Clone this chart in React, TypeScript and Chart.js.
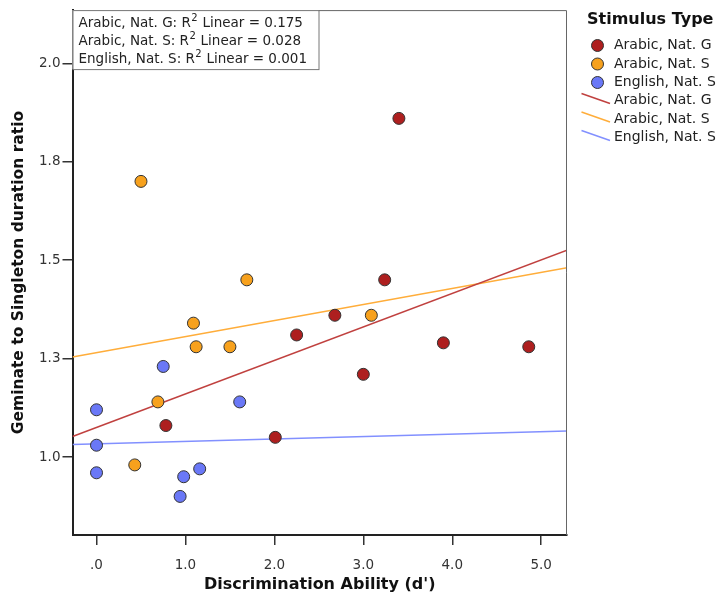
import React, { useEffect, useRef } from "react";
import { Chart, registerables } from "chart.js";
Chart.register(...registerables);

const seriesLabels = ["Arabic, Nat. G", "Arabic, Nat. S", "English, Nat. S"];
const legendTitle = "Stimulus Type";
const arabicGX = [0.78, 2.01, 2.25, 2.68, 3.0, 3.24, 3.4, 3.9, 4.86];
const arabicGY = [1.08, 1.05, 1.31, 1.36, 1.21, 1.45, 1.86, 1.29, 1.28];
const arabicSX = [0.43, 0.5, 0.69, 1.09, 1.12, 1.5, 1.69, 3.09];
const arabicSY = [0.98, 1.7, 1.14, 1.34, 1.28, 1.28, 1.45, 1.36];
const englishSX = [0.0, 0.0, 0.0, 0.75, 0.94, 0.98, 1.16, 1.61];
const englishSY = [1.12, 1.03, 0.96, 1.23, 0.9, 0.95, 0.97, 1.14];
const fitX = [-0.27, 5.29];
const arabicGFit = [1.052, 1.525];
const arabicSFit = [1.254, 1.481];
const englishSFit = [1.032, 1.066];
const r2Values = ["0.175", "0.028", "0.001"];
const xTickValues = [0, 1, 2, 3, 4, 5];
const xTickLabels = [".0", "1.0", "2.0", "3.0", "4.0", "5.0"];
const yTickValues = [1.0, 1.25, 1.5, 1.75, 2.0];
const yTickLabels = ["1.0", "1.3", "1.5", "1.8", "2.0"];

const pointColors = ["#AE1F1F", "#F7A11D", "#6A78F7"];
const lineColors = ["#C0413F", "#FFAD3A", "#8290FF"];
const FONT = "'DejaVu Sans', sans-serif";

const zip = (xs: number[], ys: number[]) => xs.map((x, i) => ({ x, y: ys[i] }));

const overlayPlugin = {
  id: "overlay",
  afterDraw(chart: any) {
    const { ctx, chartArea: a } = chart;
    ctx.save();
    // top & right frame
    ctx.strokeStyle = "#666";
    ctx.lineWidth = 1;
    ctx.beginPath();
    ctx.moveTo(a.left, a.top + 0.5);
    ctx.lineTo(a.right - 0.5, a.top + 0.5);
    ctx.lineTo(a.right - 0.5, a.bottom);
    ctx.stroke();

    // R2 annotation box
    const bx = a.left, by = a.top, bw = 246, bh = 59;
    ctx.fillStyle = "#fff";
    ctx.fillRect(bx, by, bw, bh);
    ctx.strokeStyle = "#777";
    ctx.strokeRect(bx + 0.5, by + 0.5, bw, bh);
    ctx.fillStyle = "#222";
    ctx.textBaseline = "middle";
    ctx.textAlign = "left";
    seriesLabels.forEach((lab, i) => {
      const y = by + 13 + i * 18.3;
      let x = bx + 6;
      ctx.font = `13.5px ${FONT}`;
      const t1 = `${lab}: R`;
      ctx.fillText(t1, x, y);
      x += ctx.measureText(t1).width;
      ctx.font = `10px ${FONT}`;
      ctx.fillText("2", x + 0.5, y - 5);
      x += ctx.measureText("2").width + 1;
      ctx.font = `13.5px ${FONT}`;
      ctx.fillText(` Linear = ${r2Values[i]}`, x, y);
    });

    // legend
    const lx = 580;
    ctx.font = `bold 16px ${FONT}`;
    ctx.fillStyle = "#111";
    ctx.fillText(legendTitle, lx + 7, 20);
    ctx.font = `14px ${FONT}`;
    seriesLabels.forEach((lab, i) => {
      const y = 45.5 + i * 18.5;
      ctx.beginPath();
      ctx.arc(lx + 17.5, y, 6, 0, Math.PI * 2);
      ctx.fillStyle = pointColors[i];
      ctx.fill();
      ctx.strokeStyle = "#333";
      ctx.lineWidth = 1;
      ctx.stroke();
      ctx.fillStyle = "#222";
      ctx.fillText(lab, lx + 34, y);
    });
    seriesLabels.forEach((lab, i) => {
      const y = 100.5 + i * 18.5;
      ctx.beginPath();
      ctx.moveTo(lx + 1.5, y - 7);
      ctx.lineTo(lx + 30, y + 3);
      ctx.strokeStyle = lineColors[i];
      ctx.lineWidth = 1.5;
      ctx.stroke();
      ctx.fillStyle = "#222";
      ctx.fillText(lab, lx + 34, y);
    });
    ctx.restore();
  },
};

export default function App() {
  const ref = useRef<HTMLCanvasElement | null>(null);
  useEffect(() => {
    if (!ref.current) return;
    const pointDs = [
      zip(arabicGX, arabicGY),
      zip(arabicSX, arabicSY),
      zip(englishSX, englishSY),
    ].map((data, i) => ({
      label: seriesLabels[i],
      data,
      backgroundColor: pointColors[i],
      borderColor: "#333",
      borderWidth: 1,
      pointRadius: 6,
      showLine: false,
    }));
    const lineDs = [arabicGFit, arabicSFit, englishSFit].map((ys, i) => ({
      label: seriesLabels[i] + " fit",
      data: zip(fitX, ys),
      borderColor: lineColors[i],
      borderWidth: 1.5,
      pointRadius: 0,
      showLine: true,
      fill: false,
    }));
    const chart = new Chart(ref.current, {
      type: "scatter",
      data: { datasets: [...pointDs, ...lineDs] as any },
      plugins: [overlayPlugin],
      options: {
        animation: false,
        responsive: false,
        maintainAspectRatio: false,
        layout: { padding: { top: 7, right: 156, left: 0, bottom: 0 } },
        plugins: { legend: { display: false }, tooltip: { enabled: false } },
        scales: {
          x: {
            type: "linear",
            min: fitX[0],
            max: fitX[1],
            afterBuildTicks: (s: any) => {
              s.ticks = xTickValues.map((v) => ({ value: v }));
            },
            afterFit: (s: any) => {
              s.height = 61;
            },
            ticks: {
              callback: (_v: any, i: number) => xTickLabels[i],
              font: { family: FONT, size: 13.5 },
              color: "#333",
              padding: 12,
            },
            grid: {
              drawOnChartArea: false,
              drawTicks: true,
              tickLength: 10,
              color: "#333",
              lineWidth: 1.5,
            },
            border: { display: true, color: "#222", width: 2 },
            title: {
              display: true,
              text: "Discrimination Ability (d')",
              font: { family: FONT, size: 16, weight: "bold" },
              color: "#111",
              padding: { top: 0, bottom: 2 },
            },
          },
          y: {
            type: "linear",
            min: 0.802,
            max: 2.135,
            afterBuildTicks: (s: any) => {
              s.ticks = yTickValues.map((v) => ({ value: v }));
            },
            afterFit: (s: any) => {
              s.width = 72.5;
            },
            ticks: {
              callback: (_v: any, i: number) => yTickLabels[i],
              font: { family: FONT, size: 13.5 },
              color: "#333",
              padding: 2,
            },
            grid: {
              drawOnChartArea: false,
              drawTicks: true,
              tickLength: 10,
              color: "#333",
              lineWidth: 1.5,
            },
            border: { display: true, color: "#222", width: 2 },
            title: {
              display: true,
              text: "Geminate to Singleton duration ratio",
              font: { family: FONT, size: 15.5, weight: "bold" },
              color: "#111",
              padding: { top: 10, bottom: 0 },
            },
          },
        },
      } as any,
    });
    return () => chart.destroy();
  }, []);
  return (
    <div style={{ position: "fixed", left: 0, top: 0, width: 723, height: 596, background: "#fff" }}>
      <canvas ref={ref} width={723} height={596} style={{ width: 723, height: 596, display: "block" }} />
    </div>
  );
}
